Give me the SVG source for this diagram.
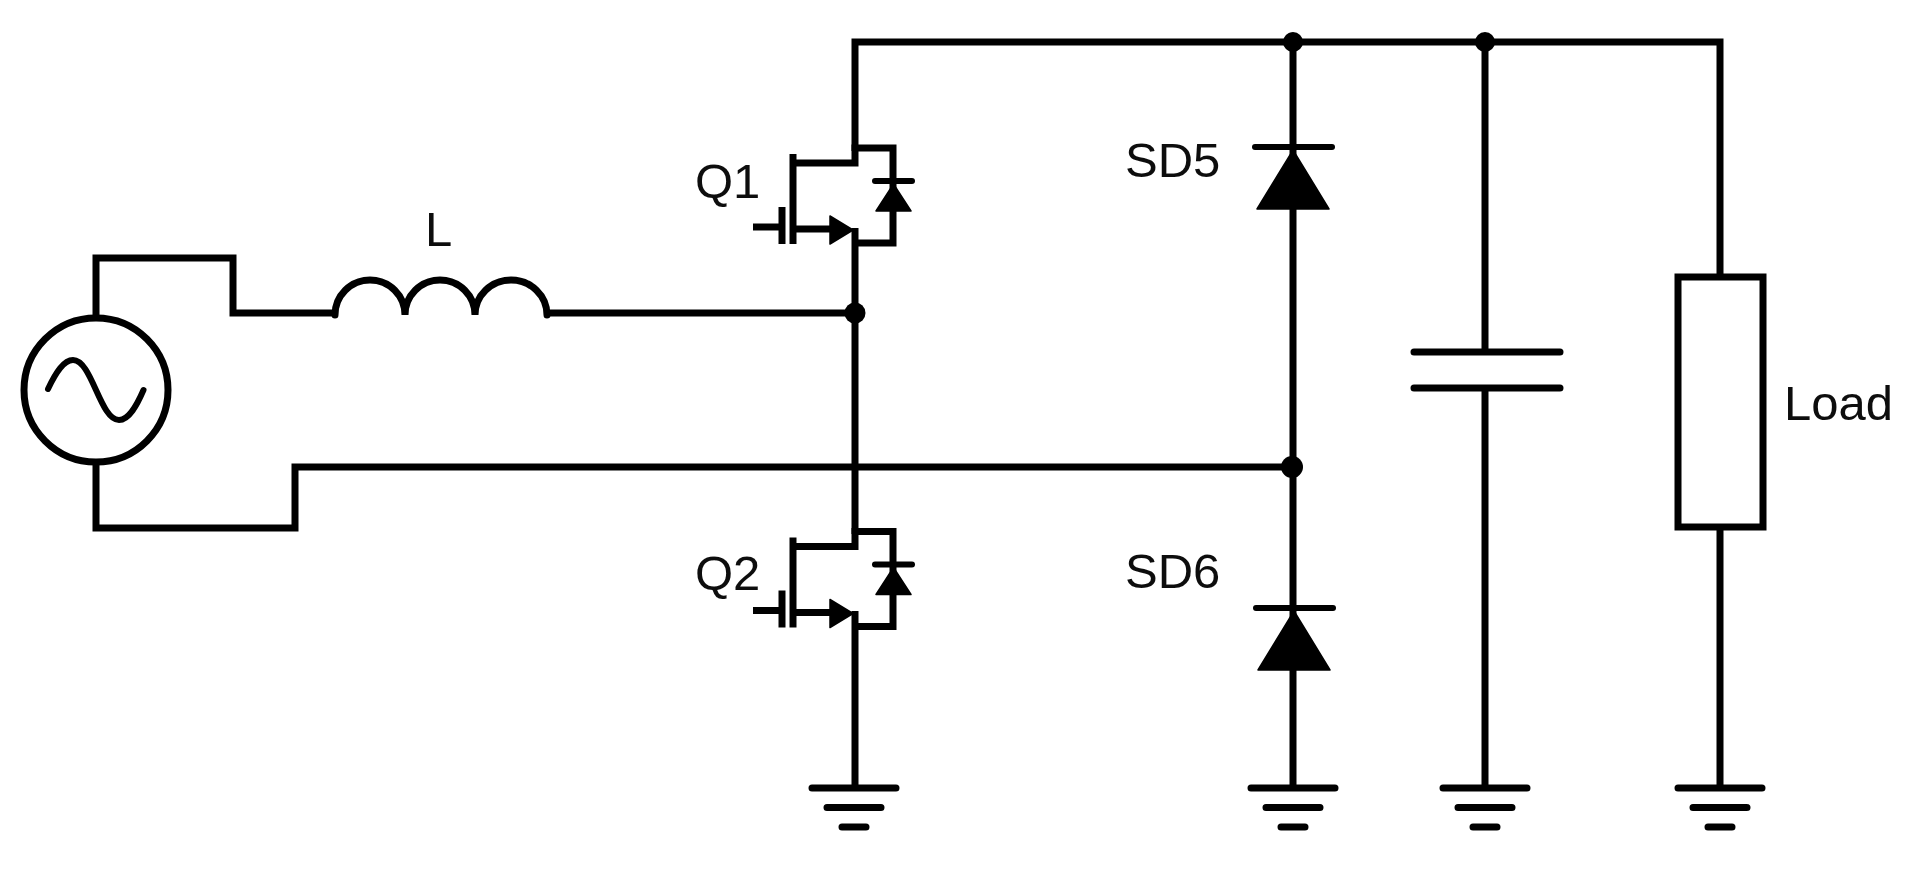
<svg xmlns="http://www.w3.org/2000/svg" width="1920" height="872" viewBox="0 0 1920 872">
  <style>
    .w { fill: none; stroke: #000; stroke-width: 7; stroke-linejoin: miter; }
    .r { fill: none; stroke: #000; stroke-width: 7; stroke-linecap: round; }
    .t { fill: #000; stroke: #000; stroke-width: 1.5; stroke-linejoin: round; }
    .lbl { font-family: "Liberation Sans", Arial, sans-serif; font-size: 49px; fill: #111; }
  </style>
  <defs>
    <filter id="soft" x="-2%" y="-2%" width="104%" height="104%"><feGaussianBlur stdDeviation="0.7"/></filter>
    <g id="gnd">
      <path class="r" d="M-42 0H42M-27 19.500H27M-12 39H12"/>
    </g>
    <g id="mos">
      <path class="w" d="M793 163H855V148H893V243H855"/>
      <path class="w" d="M793 154V244"/>
      <path class="w" d="M782 207V244"/>
      <path class="w" d="M753 227H782"/>
      <path class="w" d="M793 229H832"/>
      <path class="t" d="M830 216L853 230L830 244Z"/>
      <path class="r" style="stroke-width:6" d="M875 181H912"/>
      <path class="t" d="M893.500 184L911 211H876Z"/>
    </g>
    <g id="dio">
      <path class="r" style="stroke-width:6" d="M-38 0H39"/>
      <path class="t" d="M0 3L36 62H-36Z"/>
    </g>
  </defs>
  <rect width="1920" height="872" fill="#fff"/>
  <g filter="url(#soft)">
    <g id="connectors">
      <path class="w" d="M96 319V258H233V313H335"/>
      <path class="w" d="M96 461V528H295V467H1293"/>
      <path class="w" d="M547 313H855"/>
      <path class="w" d="M855 151V42H1720V277"/>
      <path class="w" d="M855 228V534"/>
      <path class="w" d="M855 611V788"/>
      <path class="w" d="M1293 42V788"/>
      <path class="w" d="M1485 42V352"/>
      <path class="w" d="M1485 388V788"/>
      <path class="w" d="M1720 527V788"/>
      <circle cx="855" cy="313" r="10.500"/>
      <circle cx="1293" cy="42" r="10"/>
      <circle cx="1485" cy="42" r="10"/>
      <circle cx="1292" cy="467" r="11"/>
    </g>
    <g id="source">
      <circle class="w" cx="96" cy="390" r="72"/>
      <path class="r" style="stroke-width:6" d="M48 389C56 372 64 360 73 360C92 360 100 420 119 420C129 420 137 405 143.500 390"/>
    </g>
    <g id="L">
      <path class="r" d="M335 315A35 35 0 0 1 405 315A35 35 0 0 1 475 315A36 35 0 0 1 547 315"/>
      <text class="lbl" x="425" y="246">L</text>
    </g>
    <g id="Q1">
      <use href="#mos"/>
      <text class="lbl" x="695" y="198">Q1</text>
    </g>
    <g id="Q2">
      <use href="#mos" transform="translate(0 383.500)"/>
      <text class="lbl" x="695" y="590">Q2</text>
    </g>
    <g id="SD5">
      <use href="#dio" transform="translate(1293 147)"/>
      <text class="lbl" x="1125" y="177">SD5</text>
    </g>
    <g id="SD6">
      <use href="#dio" transform="translate(1294 608)"/>
      <text class="lbl" x="1125" y="588">SD6</text>
    </g>
    <g id="C">
      <path class="r" d="M1414 352H1560M1414 388H1560"/>
    </g>
    <g id="Load">
      <rect class="w" x="1678" y="277" width="85" height="250"/>
      <text class="lbl" x="1784" y="420">Load</text>
    </g>
    <g id="gnd1"><use href="#gnd" transform="translate(854 788)"/></g>
    <g id="gnd2"><use href="#gnd" transform="translate(1293 788)"/></g>
    <g id="gnd3"><use href="#gnd" transform="translate(1485 788)"/></g>
    <g id="gnd4"><use href="#gnd" transform="translate(1720 788)"/></g>
  </g>
</svg>
